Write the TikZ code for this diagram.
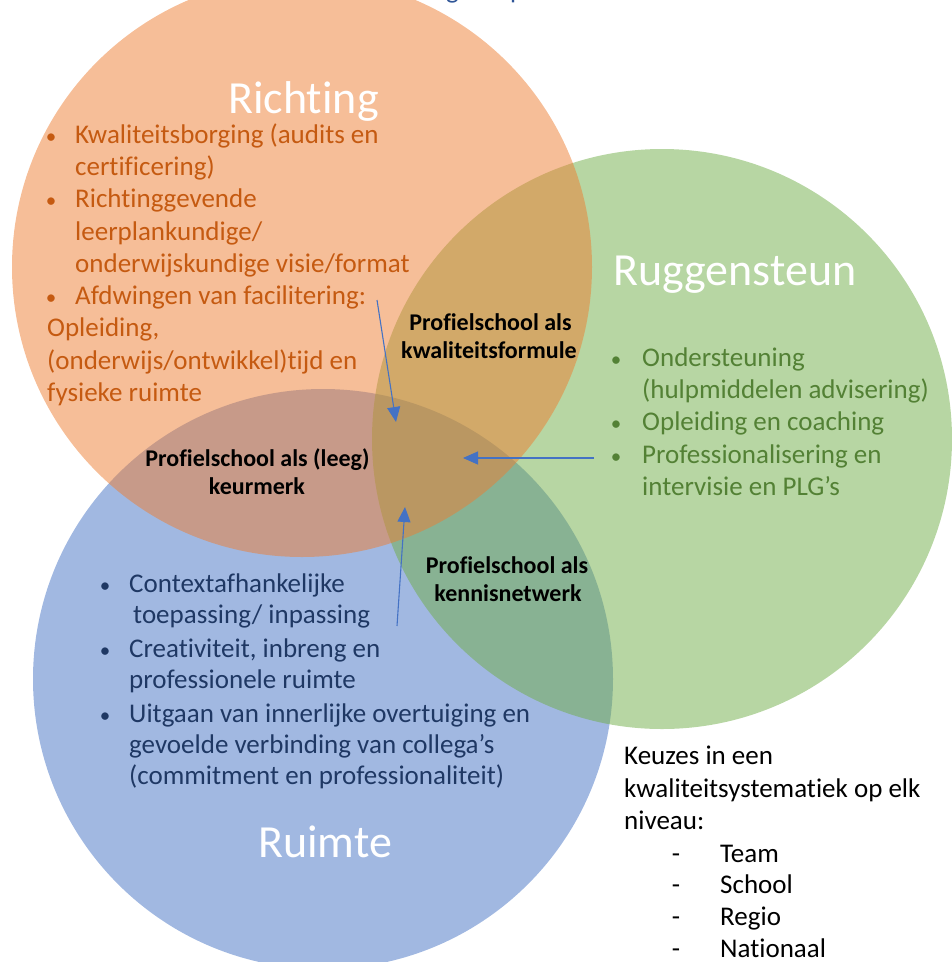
\documentclass[tikz,border=0pt]{standalone}
\usepackage{fontspec}
\setmainfont{Carlito}[Ligatures=NoCommon]
\usetikzlibrary{arrows.meta}

\definecolor{richtingFill}{HTML}{ED7D31}
\definecolor{steunFill}{HTML}{70AD47}
\definecolor{ruimteFill}{HTML}{4472C4}
\definecolor{richtingText}{HTML}{C55A11}
\definecolor{steunText}{HTML}{538135}
\definecolor{ruimteText}{HTML}{1F3864}
\definecolor{titleBlue}{HTML}{2F5597}
\definecolor{arrowBlue}{HTML}{4472C4}

\begin{document}
\begin{tikzpicture}[x=1pt,y=-1pt,
  disc/.style={fill opacity=0.5},
  body/.style={anchor=base west, inner sep=0pt, font=\fontsize{27}{32}\selectfont},
  dot/.style={anchor=base, inner sep=0pt, font=\fontsize{21}{32}\selectfont},
  hyph/.style={anchor=base, inner sep=0pt, font=\fontsize{27}{32}\selectfont},
  heading/.style={anchor=base west, inner sep=0pt, text=white, font=\fontsize{46}{50}\selectfont},
  overlap/.style={anchor=base, inner sep=0pt, text=black, font=\bfseries\fontsize{24}{28}\selectfont},
  flow/.style={draw=arrowBlue, line width=1.1pt, -{Triangle[length=15pt,width=13pt]}}
]
\useasboundingbox (0,0) rectangle (952,962);

\begin{scope}
  \clip (0,0) rectangle (952,962);
  % the three sets
  \fill[disc, ruimteFill]   (323,679) circle[radius=290pt];
  \fill[disc, steunFill]    (662,439) circle[radius=290pt];
  \fill[disc, richtingFill] (302,267) circle[radius=290pt];
  % heading above, cut off by the page edge
  \node[anchor=base west, inner sep=0pt, text=titleBlue, font=\fontsize{27}{32}\selectfont] (topg) at (446,-1.5) {g};
  \node[anchor=base west, inner sep=0pt, text=titleBlue, font=\fontsize{27}{32}\selectfont] (topp) at (510,-1.5) {p};
\end{scope}

% set names
\node[heading] (hRichting) at (228,113) {Richting};
\node[heading] (hSteun)    at (613,285) {Ruggensteun};
\node[heading] (hRuimte)   at (258,857) {Ruimte};

% Richting
\begin{scope}[every node/.append style={text=richtingText}]
  \node[dot]  (rb1) at (51,143)   {•};
  \node[dot]  (rb2) at (51,207.6) {•};
  \node[dot]  (rb3) at (51,304.5) {•};
  \node[body] (r1) at (75,143)   {Kwaliteitsborging (audits en};
  \node[body] (r2) at (75,175.3) {certificering)};
  \node[body] (r3) at (75,207.6) {Richtinggevende};
  \node[body] (r4) at (75,240)   {leerplankundige/};
  \node[body] (r5) at (75,272.2) {onderwijskundige visie/format};
  \node[body] (r6) at (75,304.5) {Afdwingen van facilitering:};
  \node[body] (r7) at (47,336.8) {Opleiding,};
  \node[body] (r8) at (47,369)   {(onderwijs/ontwikkel)tijd en};
  \node[body] (r9) at (47,401.4) {fysieke ruimte};
\end{scope}

% Ruggensteun
\begin{scope}[every node/.append style={text=steunText}]
  \node[dot]  (sb1) at (616,366) {•};
  \node[dot]  (sb2) at (616,430) {•};
  \node[dot]  (sb3) at (616,463) {•};
  \node[body] (s1) at (642,366) {Ondersteuning};
  \node[body] (s2) at (642,398) {(hulpmiddelen advisering)};
  \node[body] (s3) at (642,430) {Opleiding en coaching};
  \node[body] (s4) at (642,463) {Professionalisering en};
  \node[body] (s5) at (642,495) {intervisie en PLG’s};
\end{scope}

% Ruimte
\begin{scope}[every node/.append style={text=ruimteText}]
  \node[dot]  (ub1) at (105,592) {•};
  \node[dot]  (ub2) at (105,657) {•};
  \node[dot]  (ub3) at (105,722) {•};
  \node[body] (u1) at (129,592) {Contextafhankelijke};
  \node[body] (u2) at (133,623) {toepassing/ inpassing};
  \node[body] (u3) at (129,657) {Creativiteit, inbreng en};
  \node[body] (u4) at (129,688) {professionele ruimte};
  \node[body] (u5) at (129,722) {Uitgaan van innerlijke overtuiging en};
  \node[body] (u6) at (129,753) {gevoelde verbinding van collega’s};
  \node[body] (u7) at (129,784) {(commitment en professionaliteit)};
\end{scope}

% overlaps
\node[overlap] (o1a) at (490.5,330) {Profielschool als};
\node[overlap] (o1b) at (489,358)   {kwaliteitsformule};
\node[overlap] (o2a) at (257.5,466) {Profielschool als (leeg)};
\node[overlap] (o2b) at (257,494)   {keurmerk};
\node[overlap] (o3a) at (507,573)   {Profielschool als};
\node[overlap] (o3b) at (508,601)   {kennisnetwerk};

% levels
\node[body] (k1) at (624,764) {Keuzes in een};
\node[body] (k2) at (624,797) {kwaliteitsystematiek op elk};
\node[body] (k3) at (624,829) {niveau:};
\node[hyph] (kd1) at (676,862) {-};
\node[hyph] (kd2) at (676,893) {-};
\node[hyph] (kd3) at (676,925) {-};
\node[hyph] (kd4) at (676,957) {-};
\node[body] (l1) at (720,862) {Team};
\node[body] (l2) at (720,893) {School};
\node[body] (l3) at (720,925) {Regio};
\node[body] (l4) at (720,957) {Nationaal};

% arrows into the centre
\coordinate (aRs) at (377,300);
\coordinate (aRe) at (396,422);
\coordinate (aSs) at (594,458);
\coordinate (aSe) at (463,458);
\coordinate (aUs) at (397,626);
\coordinate (aUe) at (405,507);
\draw[flow] (aRs) -- (aRe);
\draw[flow] (aSs) -- (aSe);
\draw[flow] (aUs) -- (aUe);
\end{tikzpicture}
\end{document}
